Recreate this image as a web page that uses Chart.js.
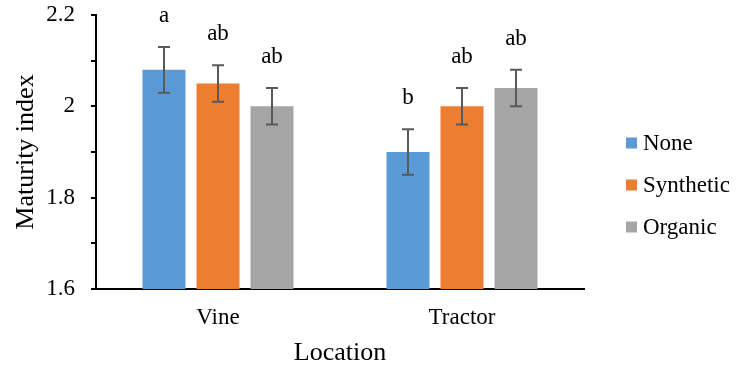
<!DOCTYPE html>
<html>
<head>
<meta charset="utf-8">
<title>Maturity index by location</title>
<script src="https://cdn.jsdelivr.net/npm/chart.js@4.4.1/dist/chart.umd.min.js"></script>
<style>
  html, body { margin: 0; padding: 0; background: #ffffff; }
  #wrap { width: 737px; height: 371px; position: relative; }
</style>
</head>
<body>
<div id="wrap"><canvas id="chart" width="737" height="371"></canvas></div>
<script>
// Locations on the x axis
const locations = ['Vine', 'Tractor'];

// Fertiliser treatments (series)
const treatments = ['None', 'Synthetic', 'Organic'];

// Mean maturity index per treatment, one value per location
const noneMeans      = [2.08, 1.90];
const syntheticMeans = [2.05, 2.00];
const organicMeans   = [2.00, 2.04];

// Standard errors
const noneErr      = [0.05, 0.05];
const syntheticErr = [0.04, 0.04];
const organicErr   = [0.04, 0.04];

// Significance letters
const noneLetters      = ['a', 'b'];
const syntheticLetters = ['ab', 'ab'];
const organicLetters   = ['ab', 'ab'];

// Y axis range and step (labels only on every other step)
const yMin = 1.6;
const yMax = 2.2;
const yStep = 0.1;

const seriesColors = ['#5B9BD5', '#ED7D31', '#A5A5A5'];
const FONT = "'Liberation Serif', 'Times New Roman', serif";

const datasets = [
  { label: treatments[0], data: noneMeans,      err: noneErr,      letters: noneLetters },
  { label: treatments[1], data: syntheticMeans, err: syntheticErr, letters: syntheticLetters },
  { label: treatments[2], data: organicMeans,   err: organicErr,   letters: organicLetters }
].map((d, i) => Object.assign(d, {
  backgroundColor: seriesColors[i],
  borderWidth: 0,
  categoryPercentage: 0.664,
  barPercentage: 0.796
}));

// Error bars with caps, plus the significance letter above each bar
const errorBarPlugin = {
  id: 'errorBars',
  afterDatasetsDraw(chart) {
    const ctx = chart.ctx;
    const y = chart.scales.y;
    ctx.save();
    chart.data.datasets.forEach((ds, di) => {
      const meta = chart.getDatasetMeta(di);
      meta.data.forEach((bar, i) => {
        const v = ds.data[i], e = ds.err[i];
        const top = y.getPixelForValue(v + e);
        const bot = y.getPixelForValue(v - e);
        const x = bar.x;
        ctx.strokeStyle = '#595959';
        ctx.lineWidth = 2;
        ctx.beginPath();
        ctx.moveTo(x, top); ctx.lineTo(x, bot);
        ctx.moveTo(x - 6, top); ctx.lineTo(x + 6, top);
        ctx.moveTo(x - 6, bot); ctx.lineTo(x + 6, bot);
        ctx.stroke();

        ctx.fillStyle = '#000000';
        ctx.font = '23px ' + FONT;
        ctx.textAlign = 'center';
        ctx.textBaseline = 'alphabetic';
        ctx.fillText(ds.letters[i], x, top - 25);
      });
    });
    ctx.restore();
  }
};

// Vertical legend to the right of the plot
const sideLegendPlugin = {
  id: 'sideLegend',
  afterDraw(chart) {
    const ctx = chart.ctx;
    ctx.save();
    ctx.font = '23px ' + FONT;
    ctx.textAlign = 'left';
    ctx.textBaseline = 'middle';
    chart.data.datasets.forEach((ds, i) => {
      const cy = 143 + i * 42;
      ctx.fillStyle = ds.backgroundColor;
      ctx.fillRect(626, cy - 5.5, 11, 11);
      ctx.fillStyle = '#000000';
      ctx.fillText(ds.label, 643, cy + 1);
    });
    ctx.restore();
  }
};

new Chart(document.getElementById('chart'), {
  type: 'bar',
  data: { labels: locations, datasets },
  plugins: [errorBarPlugin, sideLegendPlugin],
  options: {
    responsive: false,
    animation: false,
    devicePixelRatio: 1,
    layout: { padding: { top: 15, right: 153, left: 0, bottom: 0 } },
    plugins: {
      legend: { display: false },
      tooltip: { enabled: false }
    },
    scales: {
      x: {
        grid: { display: false, drawTicks: false },
        border: { display: true, color: '#000000', width: 2 },
        ticks: { color: '#000000', font: { family: FONT, size: 23 }, padding: 15 },
        title: {
          display: true, text: 'Location', color: '#000000',
          font: { family: FONT, size: 26 }, padding: { top: 0, bottom: 2 }
        },
        afterFit(scale) { scale.height = 82; scale.paddingLeft = 0; scale.paddingRight = 0; }
      },
      y: {
        min: yMin,
        max: yMax,
        grid: { drawOnChartArea: false, drawTicks: true, tickLength: 5, color: '#000000', lineWidth: 2 },
        border: { display: true, color: '#000000', width: 2 },
        ticks: {
          stepSize: yStep,
          color: '#000000',
          font: { family: FONT, size: 23 },
          padding: 16,
          callback(value) {
            const k = Math.round(value * 10);
            return k % 2 === 0 ? String(+(k / 10).toFixed(1)) : '';
          }
        },
        title: {
          display: true, text: 'Maturity index', color: '#000000',
          font: { family: FONT, size: 26 }, padding: { top: 11, bottom: 0 }
        },
        afterFit(scale) { scale.width = 96; scale.paddingTop = 0; scale.paddingBottom = 0; }
      }
    }
  }
});
</script>
</body>
</html>
